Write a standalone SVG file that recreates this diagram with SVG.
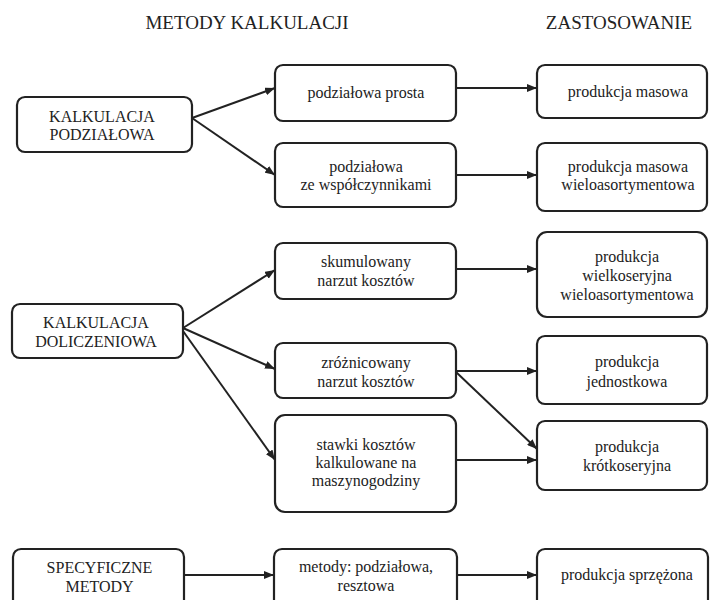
<svg xmlns="http://www.w3.org/2000/svg" width="710" height="600" viewBox="0 0 710 600">
<defs>
<style>
.box{fill:#fff;stroke:#222;stroke-width:2.2}
.t{font-family:"Liberation Serif","Times New Roman",serif;font-size:16px;fill:#222;text-anchor:middle}
.h{font-family:"Liberation Serif","Times New Roman",serif;font-size:19px;fill:#222;text-anchor:middle}
.c{stroke:#222;stroke-width:2;fill:none;marker-end:url(#ah)}
</style>
<marker id="ah" viewBox="0 0 10 8" refX="10" refY="4" markerWidth="10" markerHeight="8" markerUnits="userSpaceOnUse" orient="auto">
<path d="M0,0 L10,4 L0,8 Z" fill="#222"/>
</marker>
</defs>
<rect width="710" height="600" fill="#fff"/>
<text class="h" x="247" y="29">METODY KALKULACJI</text>
<text class="h" x="619" y="29">ZASTOSOWANIE</text>

<g id="connectors">
<path class="c" d="M192,118 L275,88"/>
<path class="c" d="M192,118 L275,175"/>
<path class="c" d="M456,88 L537,88"/>
<path class="c" d="M456,175 L537,175"/>
<path class="c" d="M183,328 L275,270"/>
<path class="c" d="M183,328 L275,369"/>
<path class="c" d="M183,331 L275,460"/>
<path class="c" d="M456,269 L537,269"/>
<path class="c" d="M456,371 L537,371"/>
<path class="c" d="M456,372 L537,449"/>
<path class="c" d="M456,460 L537,460"/>
<path class="c" d="M184,575 L274,575"/>
<path class="c" d="M457,575 L537,575"/>
</g>

<g id="kalk-podzialowa">
<rect class="box" x="17" y="97" width="175" height="55" rx="8"/>
<text class="t" x="102" y="122">KALKULACJA</text>
<text class="t" x="102" y="140">PODZIAŁOWA</text>
</g>
<g id="podzialowa-prosta">
<rect class="box" x="275" y="65" width="181" height="56" rx="8"/>
<text class="t" x="366" y="98">podziałowa prosta</text>
</g>
<g id="podzialowa-wsp">
<rect class="box" x="275" y="143" width="181" height="64" rx="8"/>
<text class="t" x="366" y="172">podziałowa</text>
<text class="t" x="366" y="190">ze współczynnikami</text>
</g>
<g id="prod-masowa">
<rect class="box" x="537" y="65" width="170" height="53" rx="8"/>
<text class="t" x="628" y="97">produkcja masowa</text>
</g>
<g id="prod-masowa-wielo">
<rect class="box" x="537" y="143" width="170" height="68" rx="8"/>
<text class="t" x="628" y="172">produkcja masowa</text>
<text class="t" x="628" y="190">wieloasortymentowa</text>
</g>

<g id="kalk-doliczeniowa">
<rect class="box" x="12" y="304" width="171" height="54" rx="8"/>
<text class="t" x="96" y="328">KALKULACJA</text>
<text class="t" x="96" y="347">DOLICZENIOWA</text>
</g>
<g id="skumulowany">
<rect class="box" x="275" y="243" width="181" height="56" rx="8"/>
<text class="t" x="366" y="267">skumulowany</text>
<text class="t" x="366" y="286">narzut kosztów</text>
</g>
<g id="zroznicowany">
<rect class="box" x="275" y="343" width="181" height="55" rx="8"/>
<text class="t" x="366" y="368">zróżnicowany</text>
<text class="t" x="366" y="387">narzut kosztów</text>
</g>
<g id="stawki">
<rect class="box" x="275" y="415" width="181" height="97" rx="10"/>
<text class="t" x="366" y="450">stawki kosztów</text>
<text class="t" x="366" y="468">kalkulowane na</text>
<text class="t" x="366" y="486">maszynogodziny</text>
</g>
<g id="prod-wielkoseryjna">
<rect class="box" x="537" y="232" width="170" height="85" rx="10"/>
<text class="t" x="627" y="262">produkcja</text>
<text class="t" x="627" y="281">wielkoseryjna</text>
<text class="t" x="627" y="300">wieloasortymentowa</text>
</g>
<g id="prod-jednostkowa">
<rect class="box" x="537" y="336" width="170" height="68" rx="8"/>
<text class="t" x="627" y="367">produkcja</text>
<text class="t" x="627" y="387">jednostkowa</text>
</g>
<g id="prod-krotkoseryjna">
<rect class="box" x="537" y="421" width="170" height="69" rx="8"/>
<text class="t" x="627" y="452">produkcja</text>
<text class="t" x="627" y="471">krótkoseryjna</text>
</g>

<g id="specyficzne">
<rect class="box" x="13" y="549" width="171" height="60" rx="8"/>
<text class="t" x="99.5" y="573">SPECYFICZNE</text>
<text class="t" x="99.5" y="592">METODY</text>
</g>
<g id="metody">
<rect class="box" x="274" y="549" width="183" height="60" rx="8"/>
<text class="t" x="366" y="572">metody: podziałowa,</text>
<text class="t" x="366" y="591">resztowa</text>
</g>
<g id="prod-sprzezona">
<rect class="box" x="537" y="549" width="171" height="60" rx="8"/>
<text class="t" x="627" y="580">produkcja sprzężona</text>
</g>
</svg>
